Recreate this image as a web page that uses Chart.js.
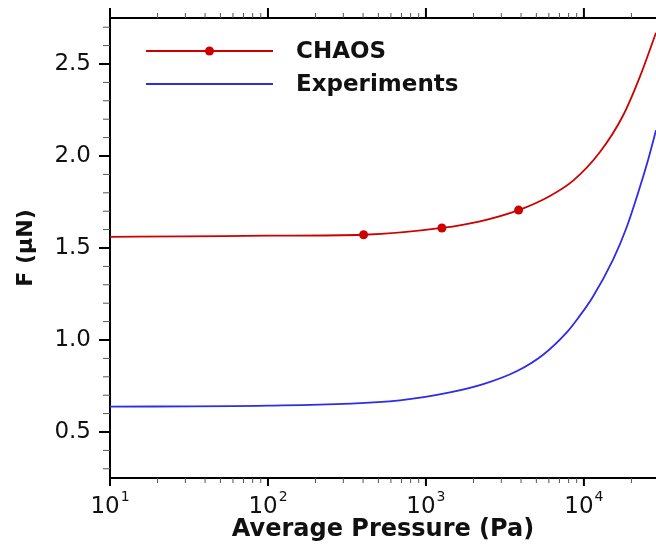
<!DOCTYPE html>
<html>
<head>
<meta charset="utf-8">
<script src="https://cdn.jsdelivr.net/npm/chart.js@4/dist/chart.umd.min.js"></script>
<style>
  html, body { margin: 0; padding: 0; background: #fff; }
  canvas { display: block; }
</style>
</head>
<body>
<canvas id="c" width="656" height="550"></canvas>
<script>
// ---- data ----
const chaosPressure = [10, 30, 100, 403, 1262, 2200, 3860, 6100, 8550, 12600, 17700, 22600, 28600];
const chaosForce    = [1.561, 1.563, 1.567, 1.572, 1.609, 1.645, 1.706, 1.783, 1.866, 2.020, 2.220, 2.430, 2.670];
const chaosMarkers  = [403, 1262, 3860];

const expPressure = [10, 100, 684, 1419, 2305, 3750, 5520, 7760, 9200, 11300, 15350, 18600, 22600, 25500, 28600];
const expForce    = [0.638, 0.643, 0.672, 0.715, 0.760, 0.830, 0.920, 1.040, 1.120, 1.230, 1.440, 1.610, 1.830, 1.980, 2.140];

const xDecades = [10, 100, 1000, 10000];
const xExponents = ['1', '2', '3', '4'];
const yTickValues = [0.5, 1.0, 1.5, 2.0, 2.5];
const seriesNames = ['CHAOS', 'Experiments'];
const xMin = 10, xMax = 28600, yMin = 0.25, yMax = 2.75;

const RED = 'rgb(205,0,0)';
const BLUE = 'rgb(45,45,232)';
Chart.defaults.font.family = "'DejaVu Sans', 'Liberation Sans', sans-serif";
Chart.defaults.color = '#111';

const chaosData = chaosPressure.map((p, i) => ({x: p, y: chaosForce[i]}));
const expData = expPressure.map((p, i) => ({x: p, y: expForce[i]}));

const decorPlugin = {
  id: 'decor',
  afterDraw(chart) {
    const ctx = chart.ctx, ca = chart.chartArea;
    const xs = chart.scales.x, ys = chart.scales.y;
    ctx.save();
    // y ticks (major + minor)
    for (let i = 3; i <= 27; i++) {
      const v = i / 10;
      const major = i % 5 === 0;
      const py = ys.getPixelForValue(v);
      ctx.beginPath();
      ctx.lineWidth = major ? 2 : 1;
      ctx.strokeStyle = major ? '#000' : '#555';
      ctx.moveTo(ca.left, py);
      ctx.lineTo(ca.left - (major ? 11 : 7), py);
      ctx.stroke();
    }
    // x ticks bottom and top
    for (const d of xDecades) {
      for (let m = 1; m <= 9; m++) {
        const v = m * d;
        if (v > xMax) break;
        const major = m === 1;
        const px = xs.getPixelForValue(v);
        ctx.beginPath();
        ctx.lineWidth = major ? 2 : 1;
        ctx.strokeStyle = major ? '#000' : '#555';
        ctx.moveTo(px, ca.bottom);
        ctx.lineTo(px, ca.bottom + (major ? 8 : 5));
        ctx.moveTo(px, ca.top);
        ctx.lineTo(px, ca.top - (major ? 10 : 5));
        ctx.stroke();
      }
    }
    // x tick labels 10^n
    ctx.fillStyle = '#111';
    ctx.textBaseline = 'alphabetic';
    ctx.textAlign = 'left';
    xDecades.forEach((d, i) => {
      const px = xs.getPixelForValue(d);
      ctx.font = "23px 'DejaVu Sans'";
      const wb = ctx.measureText('10').width;
      ctx.font = "14px 'DejaVu Sans'";
      const we = ctx.measureText(xExponents[i]).width;
      const start = px - (wb + 1 + we) / 2;
      ctx.font = "23px 'DejaVu Sans'";
      ctx.fillText('10', start, 513);
      ctx.font = "14px 'DejaVu Sans'";
      ctx.fillText(xExponents[i], start + wb + 1, 501);
    });
    // legend
    const items = [
      {name: seriesNames[0], color: RED, y: 51, marker: true},
      {name: seriesNames[1], color: BLUE, y: 84, marker: false}
    ];
    for (const it of items) {
      ctx.beginPath();
      ctx.strokeStyle = it.color;
      ctx.lineWidth = 2;
      ctx.moveTo(146, it.y);
      ctx.lineTo(273, it.y);
      ctx.stroke();
      if (it.marker) {
        ctx.beginPath();
        ctx.fillStyle = it.color;
        ctx.arc(209.5, it.y, 4.5, 0, Math.PI * 2);
        ctx.fill();
      }
      ctx.fillStyle = '#111';
      ctx.font = "bold 23px 'DejaVu Sans'";
      ctx.textBaseline = 'middle';
      ctx.fillText(it.name, 296, it.y + 1);
    }
    ctx.restore();
  }
};

new Chart(document.getElementById('c'), {
  type: 'line',
  data: {
    datasets: [
      {
        label: seriesNames[0],
        data: chaosData,
        borderColor: RED,
        backgroundColor: RED,
        borderWidth: 1.8,
        cubicInterpolationMode: 'monotone',
        pointRadius: chaosPressure.map(p => chaosMarkers.includes(p) ? 4.5 : 0),
        pointBackgroundColor: RED,
        pointBorderWidth: 0,
        fill: false
      },
      {
        label: seriesNames[1],
        data: expData,
        borderColor: BLUE,
        backgroundColor: BLUE,
        borderWidth: 1.8,
        cubicInterpolationMode: 'monotone',
        pointRadius: 0,
        fill: false
      }
    ]
  },
  options: {
    responsive: false,
    animation: false,
    events: [],
    layout: { padding: 0 },
    plugins: { legend: { display: false }, tooltip: { enabled: false } },
    scales: {
      x: {
        type: 'logarithmic',
        position: 'bottom',
        min: xMin, max: xMax,
        afterBuildTicks: s => { s.ticks = xDecades.map(v => ({value: v})); },
        afterFit: s => { s.height = 72; },
        ticks: { display: false },
        grid: { display: false },
        border: { display: true, color: '#000', width: 2 },
        title: {
          display: true,
          text: 'Average Pressure (Pa)',
          font: { size: 24, weight: 'bold' },
          color: '#111',
          padding: { top: 0, bottom: 6 }
        }
      },
      x2: {
        type: 'logarithmic',
        position: 'top',
        min: xMin, max: xMax,
        afterBuildTicks: s => { s.ticks = xDecades.map(v => ({value: v})); },
        afterFit: s => { s.height = 18; },
        ticks: { display: false },
        grid: { display: false },
        border: { display: true, color: '#000', width: 2 }
      },
      y: {
        type: 'linear',
        position: 'left',
        min: yMin, max: yMax,
        afterBuildTicks: s => { s.ticks = yTickValues.map(v => ({value: v})); },
        afterFit: s => { s.width = 110; },
        ticks: {
          font: { size: 23, lineHeight: 1.0 },
          color: '#111',
          padding: 5,
          callback: v => Number(v).toFixed(1)
        },
        grid: {
          display: true,
          drawOnChartArea: false,
          drawTicks: true,
          tickLength: 14,
          tickColor: 'rgba(0,0,0,0)',
          color: 'rgba(0,0,0,0)'
        },
        border: { display: true, color: '#000', width: 2 },
        title: {
          display: true,
          text: 'F (μN)',
          font: { size: 22, weight: 'bold' },
          color: '#111',
          padding: { top: 13, bottom: 0 }
        }
      }
    }
  },
  plugins: [decorPlugin]
});
</script>
</body>
</html>
